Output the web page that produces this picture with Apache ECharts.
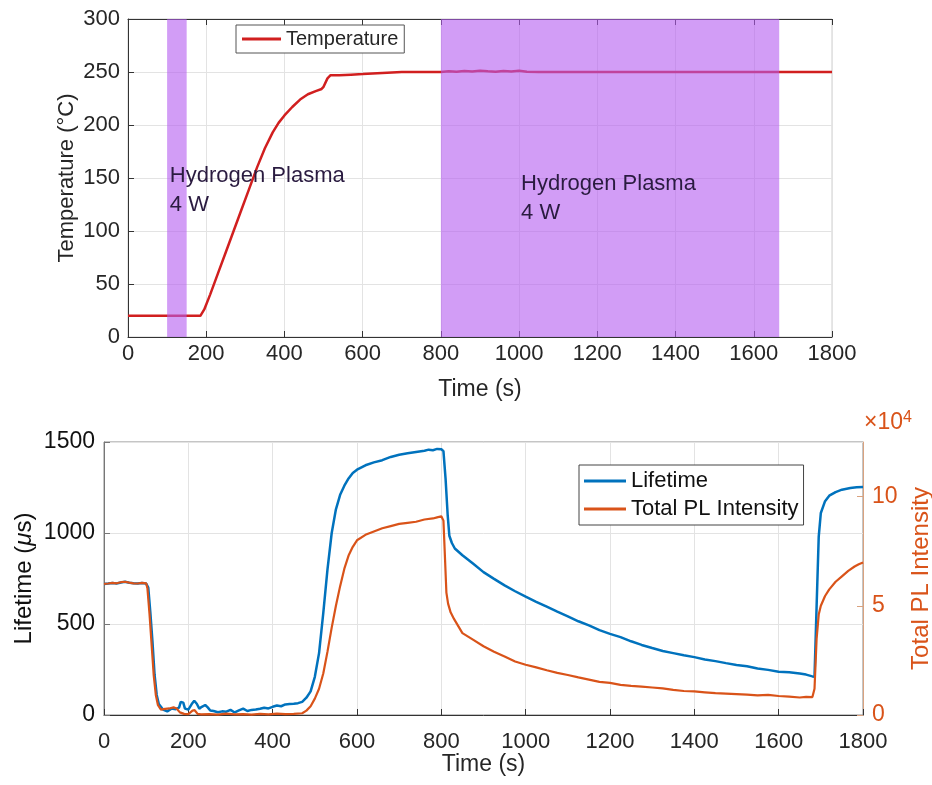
<!DOCTYPE html>
<html lang="en">
<head>
    <meta charset="UTF-8">
    <title>Hydrogen plasma: temperature, lifetime and PL</title>
    <script type="text/javascript" src="https://cdn.jsdelivr.net/npm/echarts@6.0.0/dist/echarts.min.js"></script>
    <style>
        html, body { margin: 0; padding: 0; background: #fff; }
        #main { width: 932px; height: 785px; }
    </style>
</head>
<body>
<div id="main"></div>
<script>
    // 数据: [时间 s, 值]
    const plasmaBands = [[100, 150], [800, 1665]];
    const plasmaText = 'Hydrogen Plasma\n4 W';
    const plasmaTextAt = [[107, 138], [1005, 131]];

    const temperature = [
        [0, 20], [50, 20], [100, 20], [150, 20], [185, 20], [195, 26], [210, 40], [230, 60], [250, 80],
        [270, 100], [290, 120], [310, 140], [330, 160], [350, 178], [370, 193], [385, 202], [400, 209],
        [420, 217], [440, 224], [460, 229], [480, 232], [495, 234], [500, 236], [510, 244], [518, 247],
        [540, 247], [570, 247.5], [600, 248], [650, 249], [700, 250], [750, 250], [800, 250], [820, 250.6],
        [840, 250.2], [860, 251], [880, 250.5], [900, 251.2], [920, 250.6], [940, 250.3], [960, 251],
        [980, 250.5], [1000, 251.1], [1020, 250.3], [1050, 250], [1100, 250], [1200, 250], [1300, 250],
        [1400, 250], [1500, 250], [1600, 250], [1700, 250], [1800, 250]
    ];

    const lifetime = [
        [0, 720], [10, 722], [20, 725], [30, 723], [40, 728], [50, 732], [60, 727], [70, 724], [80, 722],
        [90, 725], [100, 722], [105, 700], [110, 560], [115, 400], [120, 220], [125, 110], [130, 60],
        [140, 30], [150, 20], [160, 35], [170, 32], [178, 40], [182, 72], [188, 68], [192, 35], [200, 30],
        [208, 60], [214, 78], [220, 62], [226, 35], [232, 45], [240, 55], [246, 42], [252, 25], [260, 22],
        [270, 15], [280, 20], [290, 18], [300, 28], [310, 14], [320, 25], [330, 35], [340, 22], [350, 28],
        [360, 30], [370, 34], [380, 40], [390, 36], [400, 45], [410, 52], [420, 48], [430, 58], [440, 60],
        [450, 62], [460, 65], [470, 72], [480, 95], [490, 130], [500, 210], [510, 340], [520, 560],
        [530, 800], [540, 1000], [550, 1130], [560, 1210], [570, 1260], [580, 1300], [590, 1330],
        [600, 1348], [620, 1372], [640, 1388], [660, 1400], [680, 1418], [700, 1430], [720, 1438],
        [740, 1445], [760, 1452], [770, 1458], [780, 1455], [790, 1462], [800, 1460], [805, 1450],
        [810, 1300], [815, 1100], [819, 985], [825, 945], [832, 915], [850, 878], [875, 832], [900, 785],
        [925, 748], [950, 712], [975, 680], [1000, 650], [1025, 622], [1050, 595], [1075, 568],
        [1100, 542], [1125, 515], [1150, 492], [1175, 466], [1200, 446], [1225, 428], [1250, 405],
        [1275, 385], [1300, 368], [1325, 352], [1350, 340], [1375, 328], [1400, 318], [1425, 305],
        [1450, 296], [1475, 285], [1500, 275], [1525, 268], [1550, 256], [1575, 248], [1600, 238],
        [1625, 235], [1650, 228], [1665, 222], [1680, 212], [1685, 210], [1690, 600], [1695, 980],
        [1700, 1110], [1710, 1175], [1720, 1205], [1735, 1225], [1750, 1238], [1770, 1247], [1785, 1251],
        [1800, 1253]
    ];

    // 单位 ×10^4
    const plIntensity = [
        [0, 6.0], [10, 6.02], [20, 6.05], [30, 6.03], [40, 6.08], [50, 6.1], [60, 6.06], [70, 6.03],
        [80, 6.02], [90, 6.05], [100, 6.03], [103, 5.8], [108, 4.6], [113, 3.2], [118, 1.8], [123, 0.9],
        [128, 0.45], [135, 0.25], [145, 0.28], [155, 0.3], [165, 0.35], [172, 0.3], [180, 0.12],
        [190, 0.05], [200, 0.04], [210, 0.2], [215, 0.22], [222, 0.05], [230, 0.03], [250, 0.04],
        [270, 0.02], [290, 0.06], [310, 0.03], [330, 0.04], [350, 0.02], [370, 0.05], [390, 0.03],
        [410, 0.06], [430, 0.04], [450, 0.05], [470, 0.08], [480, 0.2], [490, 0.4], [500, 0.75],
        [510, 1.2], [520, 1.9], [530, 2.9], [540, 4.0], [550, 5.0], [560, 5.9], [570, 6.7], [580, 7.3],
        [590, 7.7], [600, 8.0], [620, 8.25], [640, 8.4], [660, 8.55], [680, 8.65], [700, 8.75],
        [720, 8.8], [740, 8.85], [760, 8.95], [780, 9.0], [790, 9.05], [800, 9.1], [805, 8.9],
        [808, 7.5], [812, 5.6], [816, 5.1], [822, 4.7], [830, 4.4], [850, 3.75], [875, 3.45],
        [900, 3.15], [925, 2.9], [950, 2.68], [975, 2.45], [1000, 2.3], [1025, 2.18], [1050, 2.05],
        [1075, 1.93], [1100, 1.83], [1125, 1.72], [1150, 1.62], [1175, 1.52], [1200, 1.47],
        [1225, 1.38], [1250, 1.33], [1275, 1.3], [1300, 1.26], [1325, 1.22], [1350, 1.15], [1375, 1.1],
        [1400, 1.08], [1425, 1.04], [1450, 1.0], [1475, 0.98], [1500, 0.96], [1525, 0.93], [1550, 0.9],
        [1575, 0.92], [1600, 0.87], [1625, 0.84], [1650, 0.8], [1665, 0.83], [1680, 0.82], [1685, 1.2],
        [1690, 3.5], [1695, 4.6], [1700, 5.0], [1710, 5.45], [1720, 5.75], [1735, 6.1], [1750, 6.35],
        [1765, 6.6], [1780, 6.8], [1790, 6.9], [1800, 6.98]
    ];

    const font = "'Liberation Sans', Arial, sans-serif";
    const ink = '#262626';
    const orange = '#D95319';
    const blue = '#0072BD';
    const plain = v => String(v);   // 不要千分位

    function xAxisFor(grid, fs, margin, nameGap) {
        return {
            type: 'value', gridIndex: grid, min: 0, max: 1800, interval: 200,
            name: 'Time (s)', nameLocation: 'middle', nameGap: nameGap, nameMoveOverlap: false,
            nameTextStyle: {fontSize: fs + 1, color: ink, fontFamily: font},
            axisLine: {lineStyle: {color: '#333', width: 1}},
            axisTick: {inside: true, length: 6, lineStyle: {color: '#333'}},
            axisLabel: {fontSize: fs, color: ink, fontFamily: font, margin: margin, formatter: plain},
            splitLine: {show: true, lineStyle: {color: '#e3e3e3'}}
        };
    }

    // 等离子体区间: 纵向铺满整个绘图区
    function renderBand(params, api) {
        var cs = params.coordSys;
        var x0 = api.coord([api.value(0), 0])[0];
        var x1 = api.coord([api.value(1), 0])[0];
        return {
            type: 'rect',
            shape: {x: x0, y: cs.y, width: x1 - x0, height: cs.height},
            style: {fill: 'rgba(180, 92, 240, 0.6)'}
        };
    }

    var chartDom = document.getElementById('main');
    var myChart = echarts.init(chartDom);
    var option = {
        animation: false,
        textStyle: {fontFamily: font},
        grid: [
            {left: 128, top: 19, width: 704, height: 318, outerBoundsMode: 'none', containLabel: false,
                show: true, borderColor: '#cfcfcf', borderWidth: 1},
            {left: 104, top: 442, width: 759, height: 273, outerBoundsMode: 'none', containLabel: false,
                show: true, borderColor: '#8a8a8a', borderWidth: 1}
        ],
        xAxis: [
            xAxisFor(0, 22, 6, 41),
            xAxisFor(1, 22, 16, 38),
            {   // 上边框
                type: 'value', gridIndex: 0, position: 'top', min: 0, max: 1800, interval: 200,
                axisLine: {lineStyle: {color: '#333'}},
                axisTick: {inside: true, length: 6, lineStyle: {color: '#333'}},
                axisLabel: {show: false}, splitLine: {show: false}
            }
        ],
        yAxis: [
            {
                type: 'value', gridIndex: 0, min: 0, max: 300, interval: 50,
                name: 'Temperature (°C)', nameLocation: 'middle', nameGap: 50, nameRotate: 90,
                nameMoveOverlap: false,
                nameTextStyle: {fontSize: 22, color: ink, fontFamily: font},
                axisLine: {show: true, lineStyle: {color: '#333'}},
                axisTick: {show: true, inside: true, length: 6, lineStyle: {color: '#333'}},
                axisLabel: {fontSize: 22, color: ink, fontFamily: font, margin: 8},
                splitLine: {show: true, lineStyle: {color: '#e3e3e3'}}
            },
            {
                type: 'value', gridIndex: 1, min: 0, max: 1500, interval: 500,
                name: '{a|Lifetime (}{b|μ}{a|s)}', nameLocation: 'middle', nameGap: 68, nameRotate: 90,
                nameMoveOverlap: false,
                nameTextStyle: {
                    rich: {
                        a: {fontSize: 24, color: '#111', fontFamily: font},
                        b: {fontSize: 24, color: '#111', fontFamily: font, fontStyle: 'italic'}
                    }
                },
                axisLine: {show: true, lineStyle: {color: '#777'}},
                axisTick: {show: true, inside: true, length: 6, lineStyle: {color: '#777'}},
                axisLabel: {fontSize: 23, color: '#111', fontFamily: font, margin: 9, formatter: plain},
                splitLine: {show: true, lineStyle: {color: '#e3e3e3'}}
            },
            {
                type: 'value', gridIndex: 1, position: 'right', min: 0, max: 12.5, interval: 5,
                name: 'Total PL Intensity', nameLocation: 'middle', nameGap: 46, nameRotate: 90,
                nameMoveOverlap: false,
                nameTextStyle: {fontSize: 24, color: orange, fontFamily: font},
                axisLine: {show: true, lineStyle: {color: '#d9a27f'}},
                axisTick: {show: true, inside: true, length: 6, lineStyle: {color: '#d9a27f'}},
                axisLabel: {fontSize: 23, color: orange, fontFamily: font, margin: 9, showMaxLabel: false},
                splitLine: {show: false}
            }
        ],
        legend: [
            {
                data: ['Temperature'], left: 236, top: 25, orient: 'vertical',
                backgroundColor: '#fff', borderColor: '#555', borderWidth: 1, padding: [4, 6],
                icon: 'rect', itemWidth: 39, itemHeight: 3, itemGap: 4,
                textStyle: {fontSize: 20, color: ink, fontFamily: font}
            },
            {
                data: ['Lifetime', 'Total PL Intensity'], left: 579, top: 465, orient: 'vertical',
                backgroundColor: '#fff', borderColor: '#444', borderWidth: 1, padding: [5, 5],
                icon: 'rect', itemWidth: 42, itemHeight: 3, itemGap: 6,
                textStyle: {fontSize: 22, color: '#111', fontFamily: font}
            }
        ],
        graphic: [
            {
                type: 'text', left: 864, top: 410,
                style: {
                    text: '{a|×10}{b|4}', fill: orange,
                    rich: {
                        a: {fontSize: 23, fill: orange, fontFamily: font},
                        b: {fontSize: 16, fill: orange, fontFamily: font, verticalAlign: 'top', padding: [0, 0, 10, 0]}
                    }
                }
            }
        ],
        series: [
            {
                name: 'Temperature', type: 'line', xAxisIndex: 0, yAxisIndex: 0,
                data: temperature, showSymbol: false, z: 2,
                color: '#d11f1f', lineStyle: {width: 2.5, color: '#d11f1f'}
            },
            {   // 半透明色块叠在曲线上
                name: 'plasma', type: 'custom', xAxisIndex: 0, yAxisIndex: 0, z: 4,
                silent: true, renderItem: renderBand, data: plasmaBands
            },
            {
                name: 'plasmaText', type: 'line', xAxisIndex: 0, yAxisIndex: 0, z: 6,
                data: [], showSymbol: false,
                markPoint: {
                    silent: true, z: 6, symbol: 'circle', symbolSize: 0,
                    label: {
                        show: true, position: 'right', distance: 0, formatter: plasmaText,
                        fontSize: 22, lineHeight: 29, color: '#2a1b40', fontFamily: font, align: 'left'
                    },
                    data: plasmaTextAt.map(p => ({coord: p}))
                }
            },
            {
                name: 'Lifetime', type: 'line', xAxisIndex: 1, yAxisIndex: 1,
                data: lifetime, showSymbol: false, z: 3,
                color: blue, lineStyle: {width: 2.5, color: blue}
            },
            {
                name: 'Total PL Intensity', type: 'line', xAxisIndex: 1, yAxisIndex: 2,
                data: plIntensity, showSymbol: false, z: 4,
                color: orange, lineStyle: {width: 2.2, color: orange}
            }
        ]
    };
    myChart.setOption(option);
</script>
</body>
</html>
